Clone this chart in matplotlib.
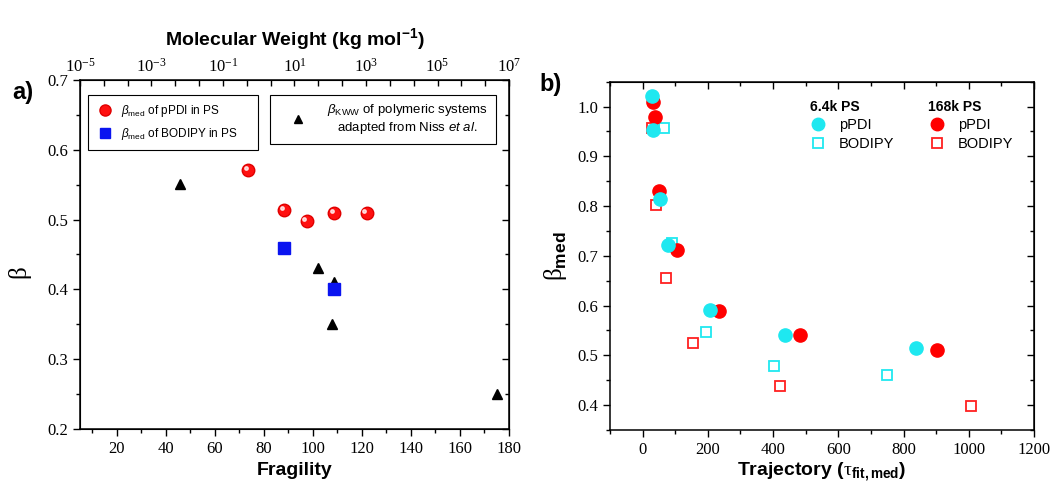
import matplotlib
matplotlib.use("Agg")
import matplotlib.pyplot as plt
from matplotlib.lines import Line2D
from matplotlib.ticker import MultipleLocator, FixedLocator, NullFormatter, FormatStrFormatter
import matplotlib.transforms as mtransforms

# tick labels are serif, every other text is Arial-like
plt.rcParams['font.family'] = ['Liberation Serif', 'DejaVu Serif']
plt.rcParams['mathtext.fontset'] = 'custom'
plt.rcParams['mathtext.rm'] = 'Liberation Serif'
plt.rcParams['mathtext.it'] = 'Liberation Sans:italic'
plt.rcParams['mathtext.bf'] = 'Liberation Sans:bold'
plt.rcParams['mathtext.sf'] = 'Liberation Sans'
SANS = 'Liberation Sans'

# panel a) beta vs fragility
frag_ppdi = [73.5, 88.3, 97.4, 108.8, 121.9]
beta_ppdi = [0.571, 0.514, 0.498, 0.510, 0.510]
frag_bodipy = [88.3, 108.8]
beta_bodipy = [0.460, 0.400]
frag_kww = [46, 102, 108.8, 108.0, 175]
beta_kww = [0.551, 0.430, 0.410, 0.350, 0.250]

# panel b) beta_med vs trajectory length
traj_64k_ppdi = [28, 32, 53, 77, 206, 436, 838]
beta_64k_ppdi = [1.021, 0.952, 0.815, 0.721, 0.591, 0.541, 0.514]
traj_64k_bodipy = [64, 91, 194, 402, 748]
beta_64k_bodipy = [0.956, 0.726, 0.547, 0.479, 0.460]
traj_168k_ppdi = [32, 38, 51, 105, 233, 483, 901]
beta_168k_ppdi = [1.009, 0.980, 0.831, 0.711, 0.590, 0.540, 0.510]
traj_168k_bodipy = [28, 40, 71, 155, 421, 1008]
beta_168k_bodipy = [0.956, 0.803, 0.655, 0.525, 0.438, 0.399]

fig = plt.figure(figsize=(10.62, 4.93), dpi=100)
ax1 = fig.add_axes([0.0753, 0.1298, 0.404, 0.708])
ax2 = fig.add_axes([0.5744, 0.1278, 0.3993, 0.7065])

for ax in (ax1, ax2):
    ax.tick_params(which='both', direction='out', width=1, top=False, right=False)
    ax.tick_params(which='major', length=5, labelsize=12)
    ax.tick_params(which='minor', length=3)
    for sp in ax.spines.values():
        sp.set_linewidth(1.1)

# ---- panel a
ax1.plot(frag_kww, beta_kww, ls='none', marker='^', color='black', ms=7)
ax1.plot(frag_ppdi, beta_ppdi, ls='none', marker='o', mfc='#ff1010', mec='#e00000', ms=9)
hl = mtransforms.offset_copy(ax1.transData, fig=fig, x=-1.5, y=1.5, units='points')
ax1.plot(frag_ppdi, beta_ppdi, ls='none', marker='o', color='white', alpha=0.75, ms=2.5, transform=hl)
ax1.plot(frag_bodipy, beta_bodipy, ls='none', marker='s', color='#0a14f0', ms=8)

ax1.set_xlim(5, 180)
ax1.set_ylim(0.2, 0.7)
ax1.set_xticks([20, 40, 60, 80, 100, 120, 140, 160, 180])
ax1.xaxis.set_minor_locator(MultipleLocator(10))
ax1.yaxis.set_major_locator(MultipleLocator(0.1))
ax1.yaxis.set_minor_locator(MultipleLocator(0.05))
ax1.yaxis.set_major_formatter(FormatStrFormatter('%.1f'))
ax1.set_xlabel('Fragility', fontsize=14, fontweight='bold', family=SANS, labelpad=4)
ax1.set_ylabel('β', fontsize=18, labelpad=10)
ax1.yaxis.set_label_coords(-0.115, 0.45)

r1 = ax1.secondary_yaxis('right')
r1.yaxis.set_major_locator(MultipleLocator(0.1))
r1.yaxis.set_minor_locator(MultipleLocator(0.05))
r1.tick_params(which='both', direction='in', labelright=False, width=1)
r1.tick_params(which='major', length=5)
r1.tick_params(which='minor', length=3)

top = ax1.twiny()
top.set_xscale('log')
top.set_xlim(1e-5, 1e7)
top.xaxis.set_major_locator(FixedLocator([10.0 ** k for k in range(-5, 8, 2)]))
top.xaxis.set_minor_locator(FixedLocator([10.0 ** (-5 + 2 * k / 3) for k in range(19)]))
top.xaxis.set_minor_formatter(NullFormatter())
top.tick_params(axis='x', which='both', direction='in', length=4, width=1, labelsize=12, pad=3)
top.set_xlabel('Molecular Weight (kg mol$^{\\mathbf{-1}}$)', fontsize=14, fontweight='bold',
               family=SANS, labelpad=9)

h1 = [Line2D([], [], ls='none', marker='o', mfc='#ff1010', mec='#e00000', ms=8),
      Line2D([], [], ls='none', marker='s', color='#0a14f0', ms=7)]
leg1 = ax1.legend(h1, [r'$\beta_{\mathsf{med}}$ of pPDI in PS', r'$\beta_{\mathsf{med}}$ of BODIPY in PS'],
                  loc='upper left', bbox_to_anchor=(0.019, 0.957, 0.396, 0.0), mode='expand',
                  borderaxespad=0, prop={'family': SANS, 'size': 8.5}, fancybox=False,
                  edgecolor='black', framealpha=1, handletextpad=0.6, borderpad=0.7,
                  labelspacing=0.55, handlelength=1.5)
leg1.get_frame().set_linewidth(0.8)
ax1.add_artist(leg1)
h2 = [Line2D([], [], ls='none', marker='^', color='black', ms=6)]
leg2 = ax1.legend(h2, [r'$\beta_{\mathsf{KWW}}$ of polymeric systems' + '\n' + r'adapted from Niss $\mathit{et\ al.}$'],
                  loc='upper left', bbox_to_anchor=(0.443, 0.957), borderaxespad=0,
                  prop={'family': SANS, 'size': 9.5}, fancybox=False,
                  edgecolor='black', framealpha=1, handletextpad=0.6, borderpad=0.55,
                  handlelength=3.2)
leg2.get_frame().set_linewidth(0.8)
for t in leg2.get_texts():
    t.set_multialignment('center')

fig.text(0.012, 0.80, 'a)', fontsize=17, fontweight='bold', family=SANS)

# ---- panel b
ax2.plot(traj_64k_bodipy, beta_64k_bodipy, ls='none', marker='s', mfc='none', mec='#20e8f0', ms=7, mew=1.3)
ax2.plot(traj_168k_bodipy, beta_168k_bodipy, ls='none', marker='s', mfc='none', mec='#ff2020', ms=7, mew=1.3)
ax2.plot(traj_168k_ppdi, beta_168k_ppdi, ls='none', marker='o', color='#ff0000', ms=9.5)
ax2.plot(traj_64k_ppdi, beta_64k_ppdi, ls='none', marker='o', color='#1ee8f0', ms=9.5)

ax2.set_xlim(-100, 1200)
ax2.set_ylim(0.35, 1.05)
ax2.xaxis.set_major_locator(MultipleLocator(200))
ax2.xaxis.set_minor_locator(MultipleLocator(100))
ax2.set_yticks([0.4, 0.5, 0.6, 0.7, 0.8, 0.9, 1.0])
ax2.yaxis.set_minor_locator(MultipleLocator(0.05))
ax2.yaxis.set_major_formatter(FormatStrFormatter('%.1f'))
ax2.set_xlabel(r'Trajectory ($\mathrm{\tau}_{\mathbf{fit,med}}$)', fontsize=14, fontweight='bold',
               family=SANS, labelpad=2)
ax2.set_ylabel(r'$\mathrm{\beta}_{\mathbf{med}}$', fontsize=18, labelpad=6)

r2 = ax2.secondary_yaxis('right')
r2.set_yticks([0.4, 0.5, 0.6, 0.7, 0.8, 0.9, 1.0])
r2.yaxis.set_minor_locator(MultipleLocator(0.05))
t2 = ax2.secondary_xaxis('top')
t2.xaxis.set_major_locator(MultipleLocator(200))
t2.xaxis.set_minor_locator(MultipleLocator(100))
r2.tick_params(which='both', direction='in', labelright=False, width=1)
t2.tick_params(which='both', direction='in', labeltop=False, width=1)
for s in (r2, t2):
    s.tick_params(which='major', length=5)
    s.tick_params(which='minor', length=3)

h64 = [Line2D([], [], ls='none', marker='o', color='#1ee8f0', ms=9),
       Line2D([], [], ls='none', marker='s', mfc='none', mec='#20e8f0', ms=7, mew=1.3)]
h168 = [Line2D([], [], ls='none', marker='o', color='#ff0000', ms=9),
        Line2D([], [], ls='none', marker='s', mfc='none', mec='#ff2020', ms=7, mew=1.3)]
lg64 = ax2.legend(h64, ['pPDI', 'BODIPY'], title='6.4k PS', loc='upper left', bbox_to_anchor=(0.44, 0.985),
                  frameon=False, prop={'family': SANS, 'size': 10.5},
                  title_fontproperties={'weight': 'bold', 'size': 10, 'family': SANS},
                  alignment='left', handletextpad=0.8, labelspacing=0.3, handlelength=1.2)
ax2.add_artist(lg64)
lg168 = ax2.legend(h168, ['pPDI', 'BODIPY'], title='168k PS', loc='upper left', bbox_to_anchor=(0.72, 0.985),
                   frameon=False, prop={'family': SANS, 'size': 10.5},
                   title_fontproperties={'weight': 'bold', 'size': 10, 'family': SANS},
                   alignment='left', handletextpad=0.8, labelspacing=0.3, handlelength=1.2)

fig.text(0.508, 0.815, 'b)', fontsize=17, fontweight='bold', family=SANS)

fig.savefig('out.png', dpi=100)
